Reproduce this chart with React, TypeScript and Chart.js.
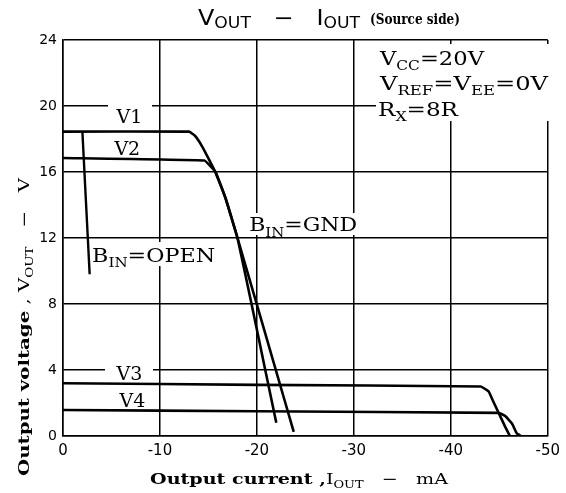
import React, { useEffect, useRef } from "react";
import { Chart, registerables } from "chart.js";
Chart.register(...registerables);

// ---- data ----
const xTickValues = [0, -10, -20, -30, -40, -50];
const yTickValues = [0, 4, 8, 12, 16, 20, 24];

const v1Current = [0, -13.0, -13.6, -14.3, -15.2, -15.7, -16.8, -18.0, -19.85, -22.0, -23.8];
const v1Voltage = [18.45, 18.45, 18.2, 17.6, 16.6, 16.0, 14.35, 12.0, 8.27, 3.9, 0.25];

const v2Current = [0, -14.6, -15.3, -15.75, -16.8, -18.0, -19.35, -20.9, -22.0];
const v2Voltage = [16.85, 16.7, 16.3, 16.0, 14.35, 12.0, 8.27, 3.9, 0.8];

const openCurrent = [-2.0, -2.75];
const openVoltage = [18.45, 9.8];

const v3Current = [0, -20, -43.1, -43.9, -44.3, -44.95, -45.6, -46.1];
const v3Voltage = [3.2, 3.1, 3.0, 2.7, 2.2, 1.38, 0.57, 0];

const v4Current = [0, -20, -44.95, -45.6, -46.3, -46.8, -47.2];
const v4Voltage = [1.58, 1.5, 1.4, 1.22, 0.77, 0.16, 0];

const toPoints = (xs: number[], ys: number[]) => xs.map((x, i) => ({ x, y: ys[i] }));

type Seg = { t: string; sub?: boolean; w?: string };

function drawRich(
  ctx: CanvasRenderingContext2D,
  segs: Seg[],
  x: number,
  y: number,
  size: number,
  family: string,
  weight: string,
  targetWidth?: number,
  subScale = 0.68,
  subOffset = 0.28
) {
  const subSize = size * subScale;
  const fontOf = (s: Seg) => `${s.w ?? weight} ${s.sub ? subSize : size}px ${family}`;
  const widths = segs.map((s) => {
    ctx.font = fontOf(s);
    return ctx.measureText(s.t).width;
  });
  const total = widths.reduce((a, b) => a + b, 0);
  const sx = targetWidth ? targetWidth / total : 1;
  ctx.save();
  ctx.translate(x, y);
  ctx.scale(sx, 1);
  ctx.fillStyle = "#000";
  ctx.textBaseline = "alphabetic";
  ctx.textAlign = "left";
  let cx = 0;
  segs.forEach((s, i) => {
    ctx.font = fontOf(s);
    ctx.fillText(s.t, cx, s.sub ? size * subOffset : 0);
    cx += widths[i];
  });
  ctx.restore();
}

const SERIF = "'DejaVu Serif', serif";
const SANS = "'DejaVu Sans', sans-serif";

const textPlugin = {
  id: "textPlugin",
  beforeDatasetsDraw(chart: any) {
    const ctx: CanvasRenderingContext2D = chart.ctx;
    ctx.save();
    ctx.fillStyle = "#fff";
    // gaps in grid behind labels
    ctx.fillRect(108, 100, 44, 10); // V1
    ctx.fillRect(105, 367, 48, 10); // V3
    ctx.fillRect(248, 213, 112, 22); // GND
    ctx.fillRect(90, 242, 128, 24); // OPEN
    ctx.fillRect(376, 44, 174, 77); // conditions box
    ctx.restore();
  },
  afterDraw(chart: any) {
    const ctx: CanvasRenderingContext2D = chart.ctx;
    const xs = chart.scales.x;
    const ys = chart.scales.y;
    const px = (v: number) => xs.getPixelForValue(v);
    const py = (v: number) => ys.getPixelForValue(v);

    // title
    drawRich(
      ctx,
      [{ t: "V" }, { t: "OUT", sub: true }, { t: "   −   " }, { t: "I" }, { t: "OUT", sub: true }],
      198, 25, 21, SANS, "normal", 162, 0.72, 0.14
    );
    drawRich(ctx, [{ t: "(Source side)" }], 370, 24, 14, SERIF, "bold", 90);

    // curve labels
    drawRich(ctx, [{ t: "V1" }], px(-5.52), py(18.97), 19, SERIF, "normal");
    drawRich(ctx, [{ t: "V2" }], px(-5.3), py(17.03), 19, SERIF, "normal");
    drawRich(ctx, [{ t: "V3" }], px(-5.52), py(3.4), 19, SERIF, "normal");
    drawRich(ctx, [{ t: "V4" }], px(-5.83), py(1.76), 19, SERIF, "normal");

    drawRich(ctx, [{ t: "B" }, { t: "IN", sub: true }, { t: "=OPEN" }], px(-3.0), py(10.55), 19, SERIF, "normal", 123);
    drawRich(ctx, [{ t: "B" }, { t: "IN", sub: true }, { t: "=GND" }], px(-19.2), py(12.4), 19, SERIF, "normal", 108);

    // conditions
    drawRich(ctx, [{ t: "V" }, { t: "CC", sub: true }, { t: "=20V" }], 380, 65, 19, SERIF, "normal", 104);
    drawRich(
      ctx,
      [{ t: "V" }, { t: "REF", sub: true }, { t: "=V" }, { t: "EE", sub: true }, { t: "=0V" }],
      380, 90, 19, SERIF, "normal", 168
    );
    drawRich(ctx, [{ t: "R" }, { t: "X", sub: true }, { t: "=8R" }], 378, 116, 19, SERIF, "normal", 80);

    // x axis title
    drawRich(
      ctx,
      [{ t: "Output current ,", w: "bold" }, { t: "I" }, { t: "OUT", sub: true }, { t: "   −   mA" }],
      150, 484, 15, SERIF, "normal", 298
    );

    // y axis title (rotated)
    ctx.save();
    ctx.translate(29, 476);
    ctx.rotate(-Math.PI / 2);
    drawRich(
      ctx,
      [{ t: "Output voltage", w: "bold" }, { t: " , V" }, { t: "OUT", sub: true }, { t: "   −   V" }],
      0, 0, 15, SERIF, "normal", 298
    );
    ctx.restore();
  },
};

export default function App() {
  const ref = useRef<HTMLCanvasElement | null>(null);
  useEffect(() => {
    if (!ref.current) return;
    const line = (xs: number[], ys: number[], w = 2.6) => ({
      data: toPoints(xs, ys),
      showLine: true,
      borderColor: "#000",
      borderWidth: w,
      pointRadius: 0,
      tension: 0.08,
      fill: false,
    });
    const chart = new Chart(ref.current, {
      type: "scatter",
      data: {
        datasets: [
          line(v1Current, v1Voltage),
          line(v2Current, v2Voltage),
          line(openCurrent, openVoltage, 2.4),
          line(v3Current, v3Voltage),
          line(v4Current, v4Voltage),
        ] as any,
      },
      options: {
        animation: false,
        responsive: false,
        devicePixelRatio: 1,
        layout: { padding: { top: 40, right: 14, left: 0, bottom: 0 } },
        plugins: { legend: { display: false }, tooltip: { enabled: false }, title: { display: false } },
        scales: {
          x: {
            type: "linear",
            min: -50,
            max: 0,
            reverse: true,
            afterFit: (s: any) => { s.height = 57; },
            afterBuildTicks: (s: any) => { s.ticks = xTickValues.map((v) => ({ value: v })); },
            ticks: {
              color: "#000",
              font: { family: SANS, size: 15 },
              padding: 6,
              maxRotation: 0,
              callback: (v: any) => String(v),
            },
            grid: { color: "#000", lineWidth: 1.5, drawTicks: false },
            border: { color: "#000", width: 1.5 },
          },
          y: {
            type: "linear",
            min: 0,
            max: 24,
            afterFit: (s: any) => { s.width = 63; },
            afterBuildTicks: (s: any) => { s.ticks = yTickValues.map((v) => ({ value: v })); },
            ticks: {
              color: "#000",
              font: { family: SANS, size: 14 },
              padding: 6,
              callback: (v: any) => String(v),
            },
            grid: { color: "#000", lineWidth: 1.5, drawTicks: false },
            border: { color: "#000", width: 1.5 },
          },
        },
      } as any,
      plugins: [textPlugin],
    });
    return () => chart.destroy();
  }, []);
  return (
    <div style={{ position: "absolute", left: 0, top: 0, width: 566, height: 493, background: "#fff" }}>
      <canvas ref={ref} width={566} height={493} />
    </div>
  );
}
